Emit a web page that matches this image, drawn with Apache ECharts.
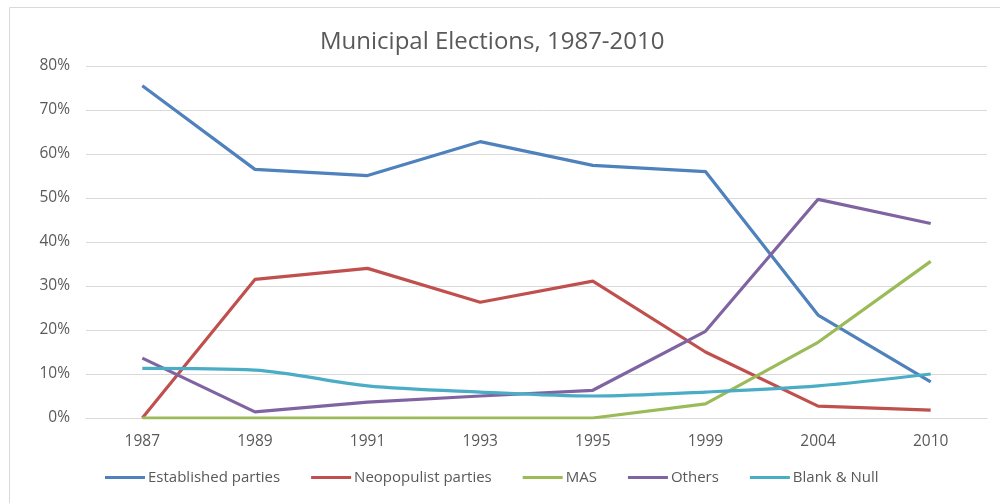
<!DOCTYPE html>
<html>
<head>
<meta charset="utf-8">
<script src="https://cdn.jsdelivr.net/npm/echarts@6/dist/echarts.min.js"></script>
<style>
html, body { margin: 0; padding: 0; background: #fff; }
#chart { width: 1000px; height: 503px; }
</style>
</head>
<body>
<div id="chart"></div>
<script>
// data, in percent
var years = ['1987', '1989', '1991', '1993', '1995', '1999', '2004', '2010'];
var established = [75.5, 56.5, 55.1, 62.8, 57.4, 56.0, 23.4, 8.2];
var neopopulist = [0, 31.5, 34.0, 26.3, 31.1, 15.0, 2.7, 1.8];
var mas = [0, 0, 0, 0, 0, 3.2, 17.2, 35.6];
var others = [13.6, 1.4, 3.6, 5.0, 6.3, 19.7, 49.7, 44.2];
var blankNull = [11.3, 10.9, 7.3, 5.9, 5.0, 5.9, 7.3, 10.0];

var font = 'Open Sans';
var textColor = '#595959';

function line(name, data, color, smooth) {
    return {
        name: name,
        type: 'line',
        data: data,
        symbol: 'none',
        smooth: smooth || false,
        lineStyle: { width: 3.2, color: color },
        itemStyle: { color: color }
    };
}

var chart = echarts.init(document.getElementById('chart'));
chart.setOption({
    animation: false,
    backgroundColor: '#fff',
    graphic: [{
        type: 'rect',
        shape: { x: 9.5, y: 7.5, width: 1000, height: 600 },
        style: { fill: 'none', stroke: '#d9d9d9', lineWidth: 1 }
    }],
    title: {
        text: 'Municipal Elections, 1987-2010',
        left: 315,
        top: 25,
        textStyle: { fontFamily: font, fontSize: 24, fontWeight: 'normal', color: textColor }
    },
    legend: {
        bottom: 13,
        left: 100,
        itemWidth: 40,
        itemHeight: 3,
        itemGap: 31,
        icon: 'rect',
        textStyle: { fontFamily: font, fontSize: 15, color: textColor, padding: [0, 0, 0, -2] }
    },
    grid: { left: 86, right: 13, top: 66, bottom: 85 },
    xAxis: {
        type: 'category',
        data: years,
        boundaryGap: true,
        axisLine: { show: true, lineStyle: { color: '#d9d9d9' } },
        axisTick: { show: false },
        axisLabel: { fontFamily: font, fontSize: 15.5, color: textColor, margin: 16 }
    },
    yAxis: {
        type: 'value',
        min: 0,
        max: 80,
        interval: 10,
        axisLine: { show: false },
        axisTick: { show: false },
        splitLine: { lineStyle: { color: '#d9d9d9', width: 1 } },
        axisLabel: { fontFamily: font, fontSize: 15.5, color: textColor, margin: 16, formatter: '{value}%' }
    },
    series: [
        line('Established parties', established, '#4f81bd'),
        line('Neopopulist parties', neopopulist, '#c0504d'),
        line('MAS', mas, '#9bbb59'),
        line('Others', others, '#8064a2'),
        line('Blank & Null', blankNull, '#4bacc6', 0.3)
    ]
});
</script>
</body>
</html>
